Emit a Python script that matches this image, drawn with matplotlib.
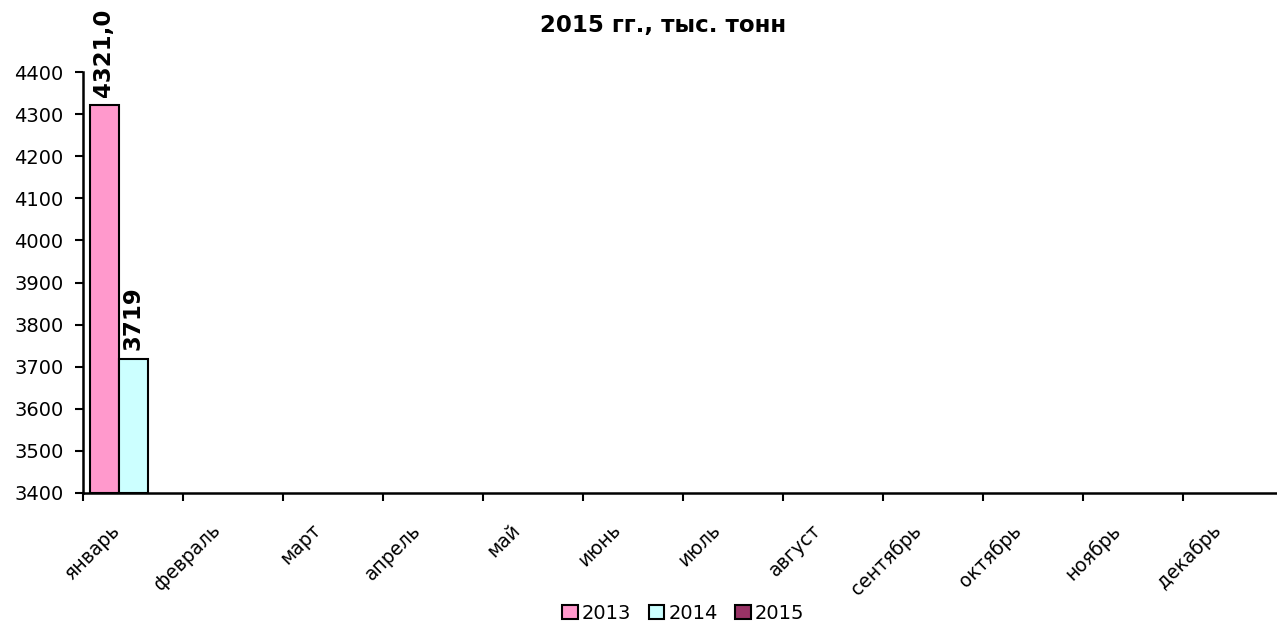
import numpy as np
import matplotlib.pyplot as plt
import matplotlib.transforms as mtransforms

# data
months = ['январь', 'февраль', 'март', 'апрель', 'май', 'июнь',
          'июль', 'август', 'сентябрь', 'октябрь', 'ноябрь', 'декабрь']
years = ['2013', '2014', '2015']
v2013 = [4321.0] + [np.nan] * 11
v2014 = [3719] + [np.nan] * 11
v2015 = [np.nan] * 12
label_fmt = ['{:.1f}', '{:.0f}', '{:.0f}']
colors = ['#FF99CC', '#CCFFFF', '#993366']

plt.rcParams['font.family'] = ['DejaVu Sans']

fig = plt.figure(figsize=(12.77, 6.29), dpi=100)
ax = fig.add_axes([83 / 1277, 136 / 629, 1200 / 1277, 421 / 629])

x = np.arange(len(months))
w = 0.29
series = [v2013, v2014, v2015]
for k, (vals, name, col) in enumerate(zip(series, years, colors)):
    pos = x + (k - 1) * w
    vals = np.array(vals, dtype=float)
    bottom = 3400
    ax.bar(pos, vals - bottom, w, bottom=bottom, color=col, edgecolor='black',
           linewidth=1.5, label=name)
    for p, v in zip(pos, vals):
        if not np.isnan(v):
            ax.text(p, v + 20, label_fmt[k].format(v).replace('.', ','),
                    rotation=90, ha='center', va='bottom', fontsize=16.5,
                    fontweight='bold')

ax.set_xlim(-0.5, 11.5)
ax.set_ylim(3400, 4400)
ax.set_yticks(np.arange(3400, 4401, 100))
ax.set_xticks(x)
ax.set_xticklabels(months, rotation=45, ha='right', rotation_mode='anchor',
                   fontsize=13.5)
ax.set_xticks(np.arange(-0.5, 11.6, 1), minor=True)
ax.tick_params(axis='x', which='major', length=0, pad=14)
ax.tick_params(axis='x', which='minor', length=6, width=1.5, direction='out')
ax.tick_params(axis='y', length=6, width=1.5, labelsize=14, pad=8)
for s in ['top', 'right']:
    ax.spines[s].set_visible(False)
for s in ['left', 'bottom']:
    ax.spines[s].set_linewidth(1.8)

# shift the rotated month labels like the original
shift = mtransforms.ScaledTranslation(-22 / 100, -8 / 100, fig.dpi_scale_trans)
for lab in ax.get_xticklabels():
    lab.set_transform(lab.get_transform() + shift)

fig.text(0.519, 0.96, '2015 гг., тыс. тонн', ha='center', va='center',
         fontsize=16.5, fontweight='bold')

fig.legend(loc='center', bbox_to_anchor=(0.535, 0.025), ncol=3, frameon=False,
           fontsize=14, handlelength=0.8, handleheight=0.8, handletextpad=0.2,
           columnspacing=0.9)

fig.savefig('out.png', dpi=100)
